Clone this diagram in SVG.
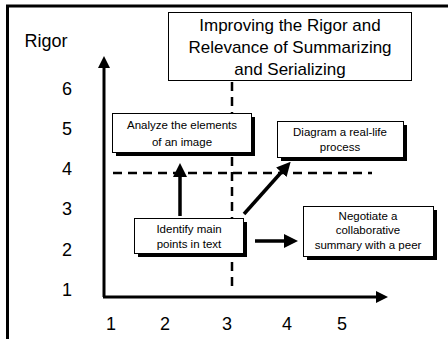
<svg xmlns="http://www.w3.org/2000/svg" width="448" height="339" viewBox="0 0 448 339">
<style>
.lbl{font-family:"Liberation Sans",Arial,sans-serif;font-size:18px;fill:#000;text-anchor:middle}
.box{fill:#fff;stroke:#000;stroke-width:1}
.sh{fill:#000}
.bt{font-family:"Liberation Sans",Arial,sans-serif;font-size:11.5px;fill:#000;text-anchor:middle}
.tt{font-family:"Liberation Sans",Arial,sans-serif;font-size:17px;fill:#000;text-anchor:middle}
.axis{stroke:#000;stroke-width:3;fill:none}
.dash{stroke:#000;stroke-width:2.5;stroke-dasharray:9,6;fill:none}
.arr{stroke:#000;stroke-width:3.5;fill:none}
</style>
<defs>
<marker id="ah" markerWidth="4" markerHeight="4" refX="2" refY="2" orient="auto" markerUnits="strokeWidth">
<path d="M0,0 L4,2 L0,4 Z" fill="#000"/>
</marker>
<marker id="axh" markerWidth="4" markerHeight="4" refX="2" refY="2" orient="auto" markerUnits="strokeWidth">
<path d="M0,0 L4,2 L0,4 Z" fill="#000"/>
</marker>
</defs>
<rect width="448" height="339" fill="#fff"/>
<g id="frame">
<line x1="7.5" y1="5" x2="7.5" y2="339" stroke="#000" stroke-width="3"/>
<line x1="6" y1="6" x2="448" y2="6" stroke="#000" stroke-width="3"/>
</g>
<g id="axes">
<line class="axis" x1="104" y1="297" x2="104" y2="62" marker-end="url(#axh)"/>
<line class="axis" x1="103" y1="297" x2="382" y2="297" marker-end="url(#axh)"/>
<text class="lbl" x="46" y="47">Rigor</text>
<text class="lbl" x="67" y="95">6</text>
<text class="lbl" x="67" y="135">5</text>
<text class="lbl" x="67" y="175">4</text>
<text class="lbl" x="67" y="215">3</text>
<text class="lbl" x="67" y="256">2</text>
<text class="lbl" x="67" y="296">1</text>
<text class="lbl" x="111" y="330">1</text>
<text class="lbl" x="165" y="330">2</text>
<text class="lbl" x="227" y="330">3</text>
<text class="lbl" x="287" y="330">4</text>
<text class="lbl" x="342" y="330">5</text>
</g>
<g id="guides">
<line class="dash" x1="232" y1="82" x2="232" y2="292"/>
<line class="dash" x1="113" y1="173" x2="372" y2="173"/>
</g>
<g id="title">
<rect class="box" x="168.5" y="12.5" width="243" height="68"/>
<text class="tt" x="290" y="31">Improving the Rigor and</text>
<text class="tt" x="290" y="53">Relevance of Summarizing</text>
<text class="tt" x="290" y="75">and Serializing</text>
</g>
<g id="connectors">
<line class="arr" x1="180" y1="216" x2="180" y2="170" marker-end="url(#ah)"/>
<line class="arr" x1="244" y1="214" x2="286" y2="167" marker-end="url(#ah)"/>
<line class="arr" x1="255" y1="241" x2="291" y2="241" marker-end="url(#ah)"/>
</g>
<g id="analyze">
<rect class="sh" x="116" y="117" width="139" height="39"/>
<rect class="box" x="112.5" y="113.5" width="139" height="39"/>
<text class="bt" x="182" y="129">Analyze the elements</text>
<text class="bt" x="182" y="146">of an image</text>
</g>
<g id="diagram">
<rect class="sh" x="281" y="125" width="126" height="36"/>
<rect class="box" x="277.5" y="121.5" width="126" height="36"/>
<text class="bt" x="340" y="136">Diagram a real-life</text>
<text class="bt" x="340" y="151">process</text>
</g>
<g id="identify">
<rect class="sh" x="138" y="222" width="109" height="35"/>
<rect class="box" x="134.5" y="218.5" width="109" height="35"/>
<text class="bt" x="189" y="233">Identify main</text>
<text class="bt" x="189" y="248">points in text</text>
</g>
<g id="negotiate">
<rect class="sh" x="307" y="210" width="130" height="50"/>
<rect class="box" x="303.5" y="206.5" width="130" height="50"/>
<text class="bt" x="368" y="220">Negotiate a</text>
<text class="bt" x="368" y="234">collaborative</text>
<text class="bt" x="368" y="249">summary with a peer</text>
</g>
</svg>
